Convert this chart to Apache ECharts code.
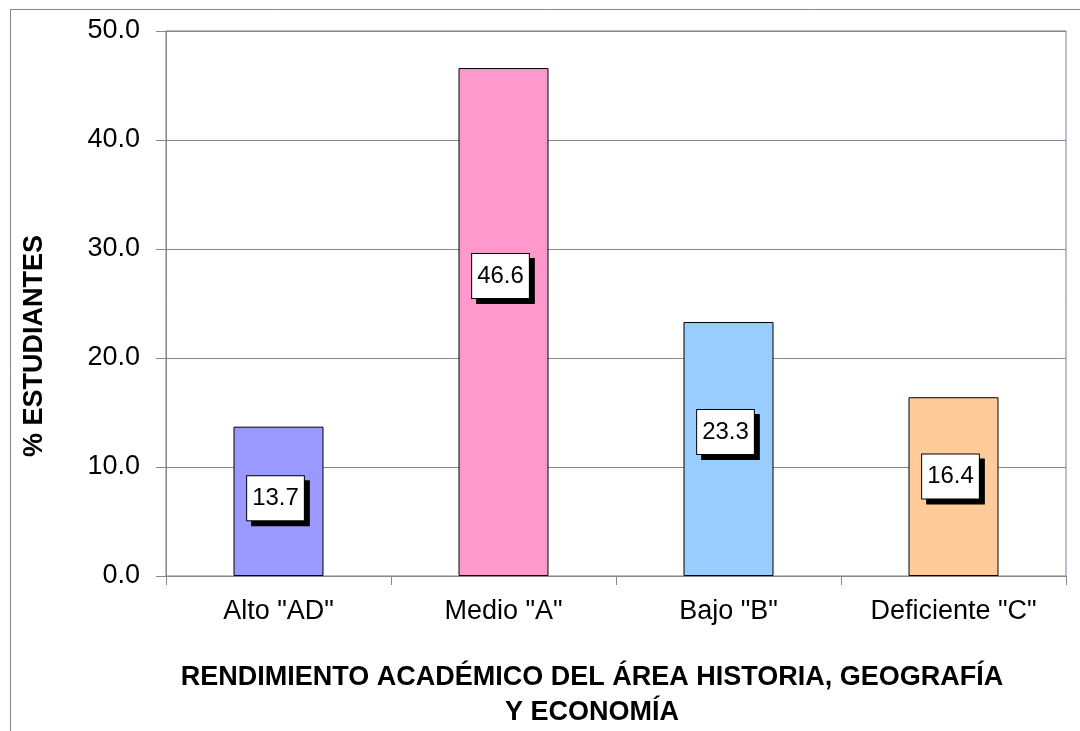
<!DOCTYPE html>
<html>
<head>
<meta charset="utf-8">
<script src="https://cdn.jsdelivr.net/npm/echarts@6/dist/echarts.min.js"></script>
<style>
  html, body { margin: 0; padding: 0; background: #fff; }
  #chart { width: 1080px; height: 731px; }
</style>
</head>
<body>
<div id="chart"></div>
<script>
// datos del grafico
var categorias = ['Alto "AD"', 'Medio "A"', 'Bajo "B"', 'Deficiente "C"'];
var porcentajes = [13.7, 46.6, 23.3, 16.4];
var yTicks = [0, 10, 20, 30, 40, 50];
var colores = ['#9999FF', '#FF99CC', '#99CCFF', '#FFCC99'];
// desplazamiento vertical de las etiquetas (estilo, como en Excel)
var desplazEtiqueta = [-3, -46, -17, -10];

var chart = echarts.init(document.getElementById('chart'));
var fuente = '"Liberation Sans", Arial, sans-serif';

var datos = [];
for (var i = 0; i < porcentajes.length; i++) {
  datos.push({
    value: porcentajes[i],
    itemStyle: { color: colores[i] },
    label: { offset: [-3, desplazEtiqueta[i]] }
  });
}

var option = {
  animation: false,
  backgroundColor: '#fff',
  grid: {
    left: 166, right: 14, top: 31, bottom: 155,
    show: true, borderColor: '#7878b4', borderWidth: 1
  },
  graphic: [
    {
      type: 'rect', silent: true,
      shape: { x: 10.5, y: 9.5, width: 1100, height: 760 },
      style: { fill: 'none', stroke: '#888', lineWidth: 1 }
    },
    {
      type: 'text', x: 35, y: 346, rotation: Math.PI / 2,
      style: {
        text: '% ESTUDIANTES', font: 'bold 27px ' + fuente,
        fill: '#000', textAlign: 'center', textVerticalAlign: 'middle'
      }
    },
    {
      type: 'text', x: 592, y: 695,
      style: {
        text: 'RENDIMIENTO ACADÉMICO DEL ÁREA HISTORIA, GEOGRAFÍA\nY ECONOMÍA',
        font: 'bold 27px ' + fuente, lineHeight: 35,
        fill: '#000', textAlign: 'center', textVerticalAlign: 'middle'
      }
    }
  ],
  xAxis: {
    type: 'category',
    data: categorias,
    axisLine: { lineStyle: { color: '#888', width: 1 } },
    axisTick: { show: true, length: 9, lineStyle: { color: '#888' } },
    axisLabel: { color: '#000', fontSize: 27, fontFamily: fuente, margin: 22 }
  },
  yAxis: {
    type: 'value',
    min: yTicks[0],
    max: yTicks[yTicks.length - 1],
    interval: 10,
    axisLine: { show: true, lineStyle: { color: '#888', width: 1 } },
    axisTick: { show: true, length: 10, lineStyle: { color: '#888' } },
    splitLine: { lineStyle: { color: '#888', width: 1 } },
    axisLabel: {
      color: '#000', fontSize: 27, fontFamily: fuente, margin: 26,
      formatter: function (v) { return v.toFixed(1); }
    }
  },
  series: [{
    type: 'bar',
    barWidth: '40%',
    data: datos,
    itemStyle: { borderColor: '#000', borderWidth: 1 },
    label: {
      show: true,
      position: 'inside',
      color: '#000',
      fontSize: 24,
      fontFamily: fuente,
      lineHeight: 24,
      backgroundColor: '#fff',
      borderColor: '#000',
      borderWidth: 1,
      padding: [10, 5],
      shadowColor: '#000',
      shadowBlur: 0,
      shadowOffsetX: 5,
      shadowOffsetY: 5,
      formatter: function (p) { return p.value.toFixed(1); }
    }
  }]
};

chart.setOption(option);
window.addEventListener('resize', function () { chart.resize(); });
</script>
</body>
</html>
